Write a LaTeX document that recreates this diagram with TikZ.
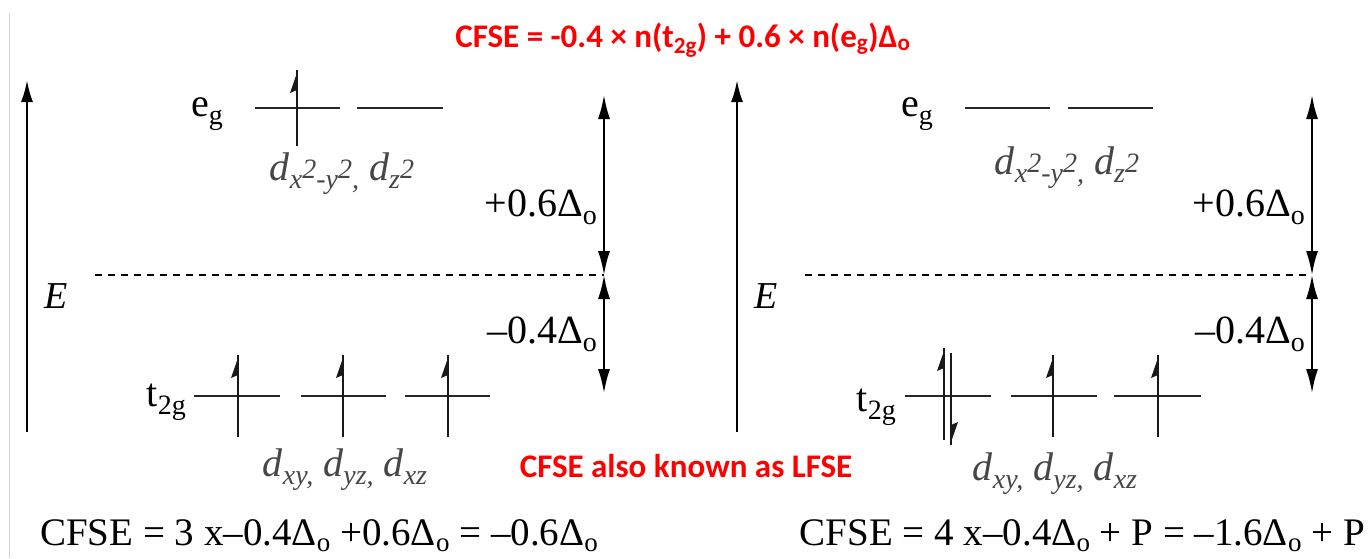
\documentclass[tikz,border=0pt]{standalone}
\usepackage{fontspec}
\setmainfont{Liberation Serif}
\newfontfamily\calib{Carlito}
\usetikzlibrary{arrows.meta}
\definecolor{dgray}{RGB}{70,70,70}
% subscript / superscript at the sizes used in the picture
\newcommand{\lo}[1]{\raisebox{-8pt}{\fontsize{28}{30}\selectfont #1}}
\newcommand{\los}[1]{\raisebox{-6pt}{\fontsize{27}{30}\selectfont #1}}
\newcommand{\hi}[1]{\raisebox{10pt}{#1}}
\newcommand{\dorb}[1]{\textit{d}\lo{\textit{#1}}}
\newcommand{\Do}{Δ\lo{o}}
\newcommand{\Dob}{Δ\los{o}}
\begin{document}
\begin{tikzpicture}[x=1pt,y=-1pt,
  axisarr/.style={line width=2.4pt,-{Latex[length=22pt,width=12pt]}},
  gaparr/.style={line width=2pt,{Latex[length=24pt,width=12pt]}-{Latex[length=24pt,width=12pt]}},
  level/.style={line width=2.8pt,black!85},
  espin/.style={line width=2.2pt,black!90},
  lab/.style={font=\fontsize{40}{44}\selectfont,inner sep=0pt},
  botlab/.style={font=\fontsize{39}{44}\selectfont,inner sep=0pt},
  dlab/.style={font=\fontsize{40}{44}\selectfont,text=dgray,inner sep=0pt},
  redlab/.style={font=\calib\bfseries\fontsize{33}{38}\selectfont,text=red,inner sep=0pt},
  elab/.style={font=\fontsize{38}{42}\selectfont\itshape,inner sep=0pt},
  dashline/.style={line width=1.6pt,dash pattern=on 7pt off 6pt}]
\useasboundingbox (0,0) rectangle (1369,558);
\fill[white] (0,0) rectangle (1369,558);
% faint frame line at left
\draw[gray!35,line width=1pt] (9.5,13) -- (9.5,558);

% ---- up / down spin helpers
\newcommand{\upspin}[3]{% x, bottom, top
  \draw[espin] (#1,#2) -- (#1,#3);
  \fill[black!90] (#1+1,#3) -- (#1-7,#3+23) -- (#1,#3+20) -- cycle;}
\newcommand{\downspin}[3]{% x, top, bottom
  \draw[espin] (#1,#2) -- (#1,#3);
  \fill[black!90] (#1-1,#3) -- (#1+7,#3-23) -- (#1,#3-20) -- cycle;}

% ================= LEFT PANEL =================
\coordinate (LA0) at (27,432);
\coordinate (LA1) at (27,80);
\draw[axisarr] (LA0) -- (LA1);
\node[elab,anchor=base] (LE) at (56,308) {E};
\coordinate (LD0) at (95,275);
\coordinate (LD1) at (604,275);
\draw[dashline] (LD0) -- (LD1);

\node[lab,anchor=base east] (Leg) at (223,116) {e\lo{g}};
\draw[level] (255,108) -- (340,108);
\draw[level] (357,108) -- (443,108);
\upspin{297}{146}{70}
\node[dlab,anchor=base] (Ldeg) at (342,180) {\dorb{x\hi{2}-y\hi{2},} \dorb{z\hi{2}}};

\coordinate (LG0) at (604,95);
\coordinate (LG1) at (604,275);
\coordinate (LG2) at (604,393);
\draw[gaparr] (LG0) -- (LG1);
\draw[gaparr] (LG1) -- (LG2);
\node[lab,anchor=base east] (Lp6) at (597,216) {+0.6\Do};
\node[lab,anchor=base east] (Lm4) at (597,343) {–0.4\Do};

\node[lab,anchor=base east] (Lt2g) at (186,406) {t\lo{2g}};
\draw[level] (194,396) -- (280,396);
\draw[level] (301,396) -- (386,396);
\draw[level] (405,396) -- (490,396);
\upspin{238}{437}{355}
\upspin{343}{437}{355}
\upspin{448}{437}{355}
\node[dlab,anchor=base] (Ldt) at (345,476) {\dorb{xy,} \dorb{yz,} \dorb{xz}};

\node[botlab,anchor=base west] (Lcfse) at (40,545) {CFSE = 3 x–0.4\Dob{} +0.6\Dob{} = –0.6\Dob};

% ================= RIGHT PANEL =================
\coordinate (RA0) at (737,432);
\coordinate (RA1) at (737,80);
\draw[axisarr] (RA0) -- (RA1);
\node[elab,anchor=base] (RE) at (766,308) {E};
\coordinate (RD0) at (805,275);
\coordinate (RD1) at (1312,275);
\draw[dashline] (RD0) -- (RD1);

\node[lab,anchor=base east] (Reg) at (933,116) {e\lo{g}};
\draw[level] (965,108) -- (1050,108);
\draw[level] (1068,108) -- (1153,108);
\node[dlab,anchor=base] (Rdeg) at (1067,174) {\dorb{x\hi{2}-y\hi{2},} \dorb{z\hi{2}}};

\coordinate (RG0) at (1312,95);
\coordinate (RG1) at (1312,275);
\coordinate (RG2) at (1312,393);
\draw[gaparr] (RG0) -- (RG1);
\draw[gaparr] (RG1) -- (RG2);
\node[lab,anchor=base east] (Rp6) at (1305,216) {+0.6\Do};
\node[lab,anchor=base east] (Rm4) at (1305,343) {–0.4\Do};

\node[lab,anchor=base east] (Rt2g) at (896,411) {t\lo{2g}};
\draw[level] (905,396) -- (991,396);
\draw[level] (1011,396) -- (1097,396);
\draw[level] (1114,396) -- (1201,396);
\upspin{944}{440}{348}
\downspin{951}{353}{445}
\upspin{1053}{437}{355}
\upspin{1158}{437}{355}
\node[dlab,anchor=base] (Rdt) at (1055,480) {\dorb{xy,} \dorb{yz,} \dorb{xz}};

\node[botlab,anchor=base east] (Rcfse) at (1365,545) {CFSE = 4 x–0.4\Dob{} + P = –1.6\Dob{} + P};

% ================= RED TEXTS =================
\node[redlab] (title) at (683,40) {CFSE = -0.4 × n(t\textsubscript{2g}) + 0.6 × n(e\textsubscript{g})Δ\textsubscript{o}};
\node[redlab] (lfse) at (686,466) {CFSE also known as LFSE};
\end{tikzpicture}
\end{document}
